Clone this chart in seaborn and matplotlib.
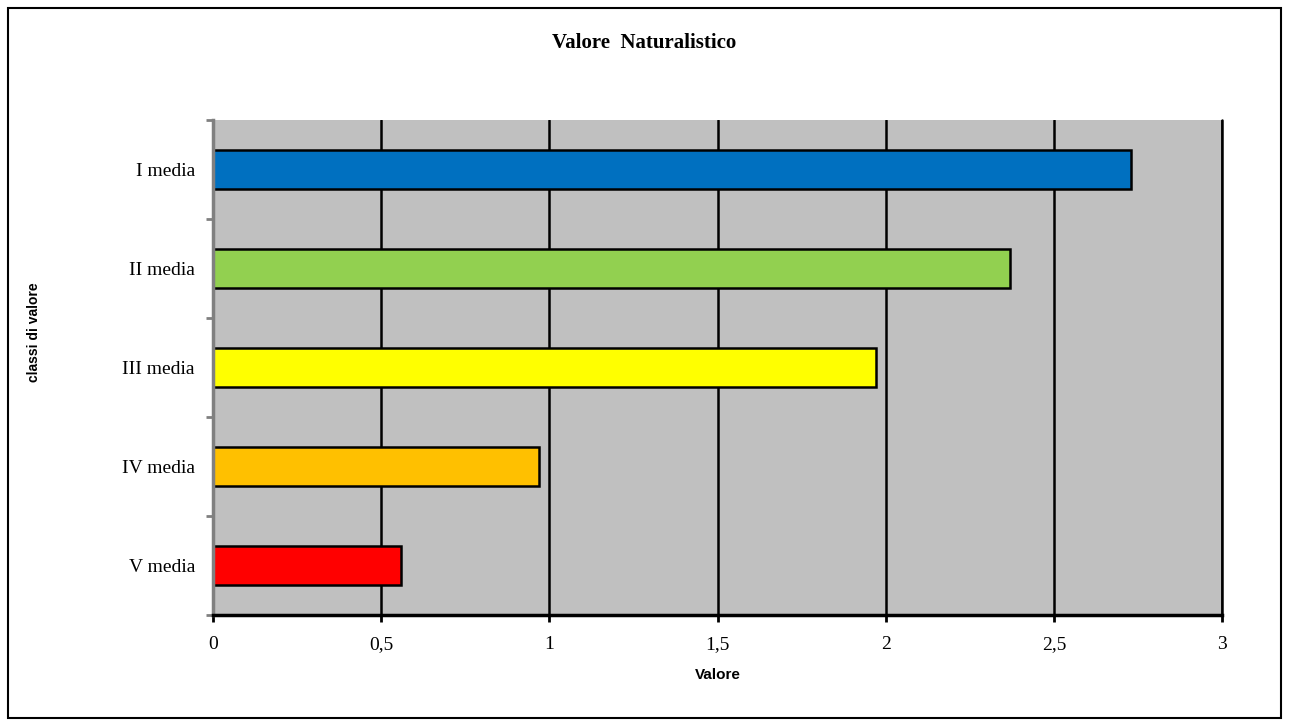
import numpy as np
import pandas as pd
import matplotlib
matplotlib.use("Agg")
import matplotlib.pyplot as plt
from matplotlib.patches import Rectangle
import seaborn as sns

sns.set_style("white")
plt.rcParams["text.color"] = "black"
plt.rcParams["xtick.color"] = "black"
plt.rcParams["ytick.color"] = "black"

classi = ["I media", "II media", "III media", "IV media", "V media"]
valori = [2.73, 2.37, 1.97, 0.97, 0.56]
colori = ["#0070C0", "#92D050", "#FFFF00", "#FFC000", "#FF0000"]
xticks = [0, 0.5, 1, 1.5, 2, 2.5, 3]
xticklabels = ["0", "0,5", "1", "1,5", "2", "2,5", "3"]

df = pd.DataFrame({"classe": classi, "valore": valori})

fig = plt.figure(figsize=(12.89, 7.27), dpi=100)
ax = fig.add_axes([213/1289, 1-615/727, (1222-213)/1289, (615-120)/727])
ax.set_facecolor("#C0C0C0")

sns.barplot(data=df, y="classe", x="valore", hue="classe", palette=colori,
            order=classi, orient="h", width=0.4, edgecolor="black", saturation=1,
            linewidth=1.8, legend=False, ax=ax)

ax.set_xlim(0, 3)
ax.set_ylim(len(classi) - 0.5, -0.5)
ax.set_xticks(xticks)
ax.set_xticklabels(xticklabels, family="Liberation Serif", fontsize=14, color="black")
ax.set_yticks(range(len(classi)))
ax.set_yticklabels(classi, family="Liberation Serif", fontsize=14, color="black")
ax.set_yticks(np.arange(-0.5, len(classi), 1), minor=True)
ax.tick_params(axis="y", which="major", left=False, length=0, pad=13)
ax.tick_params(axis="y", which="minor", left=True, length=5, width=2, color="#808080", direction="out")
ax.tick_params(axis="x", which="major", bottom=True, length=5, width=2, color="black", direction="out", pad=10)

ax.grid(axis="x", color="black", linewidth=1.8)
ax.set_axisbelow(True)
ax.axvline(3, color="black", linewidth=1.8, clip_on=False, zorder=0.5)
for s in ["top", "right"]:
    ax.spines[s].set_visible(False)
ax.spines["left"].set_color("#808080")
ax.spines["left"].set_linewidth(2.5)
ax.spines["bottom"].set_color("black")
ax.spines["bottom"].set_linewidth(2.5)

ax.set_xlabel("Valore", family="Liberation Sans", fontweight="bold", fontsize=11, labelpad=11, color="black")
ax.set_ylabel("")
fig.text(34/1289, 1-332/727, "classi di valore", rotation=90, ha="center", va="center",
         family="Liberation Sans", fontweight="bold", fontsize=10, color="black")
fig.text(0.5, 1-43/727, "Valore  Naturalistico", ha="center", va="center",
         family="Liberation Serif", fontweight="bold", fontsize=15, color="black")

fig.patches.append(Rectangle((8/1289, 1-718/727), 1273/1289, 710/727, transform=fig.transFigure,
                             fill=False, edgecolor="black", linewidth=1.5))

plt.savefig("out.png", dpi=100)
